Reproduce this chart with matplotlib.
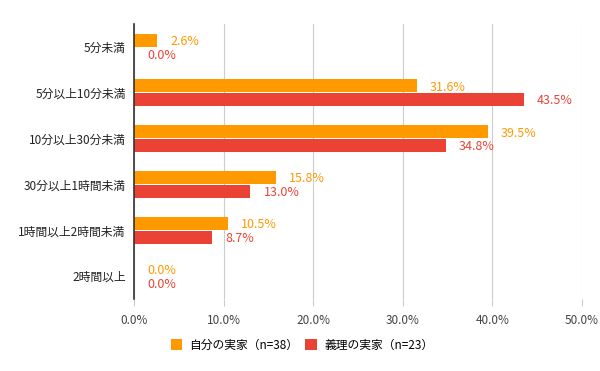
import numpy as np
import matplotlib
matplotlib.use("Agg")
import matplotlib.pyplot as plt

plt.rcParams['font.family'] = ['Noto Sans CJK JP', 'DejaVu Sans']

categories = ['5分未満', '5分以上10分未満', '10分以上30分未満',
              '30分以上1時間未満', '1時間以上2時間未満', '2時間以上']
own_family = [2.6, 31.6, 39.5, 15.8, 10.5, 0.0]
in_laws = [0.0, 43.5, 34.8, 13.0, 8.7, 0.0]
series_names = ['自分の実家（n=38）', '義理の実家（n=23）']
colors = ['#FF9900', '#EA4335']
x_ticks = [0, 10, 20, 30, 40, 50]

fig = plt.figure(figsize=(6, 3.71), dpi=100)
ax = fig.add_axes([134 / 600, 1 - 299 / 371, 448 / 600, 275 / 371])

y = np.arange(len(categories))
h = 0.3
for vals, off, col, name in [(own_family, -h / 2, colors[0], series_names[0]),
                             (in_laws, h / 2, colors[1], series_names[1])]:
    ax.barh(y + off, vals, height=h * 0.95, color=col, label=name, zorder=3)
    for yi, v in zip(y, vals):
        ax.text(v + 1.45, yi + off + 0.03, f'{v:.1f}%', color=col, fontsize=9,
                va='center', ha='left', zorder=4)

ax.set_ylim(len(categories) - 0.5, -0.5)
ax.set_xlim(0, 50)
ax.set_yticks(y)
ax.set_yticklabels(categories, fontsize=8.5, color='#222222')
ax.set_xticks(x_ticks)
ax.set_xticklabels([f'{t:.1f}%' for t in x_ticks], fontsize=8.5, color='#444444')
ax.tick_params(axis='y', length=0, pad=6)
ax.tick_params(axis='x', length=5, color='#cccccc', pad=6)
ax.grid(axis='x', color='#cccccc', linewidth=0.8, zorder=0)
for s in ['top', 'right', 'bottom']:
    ax.spines[s].set_visible(False)
ax.spines['left'].set_color('#333333')
ax.spines['left'].set_linewidth(1.2)
ax.spines['left'].set_zorder(5)

ax.legend(loc='upper center', bbox_to_anchor=(0.375, -0.105), ncol=2, frameon=False,
          fontsize=8.5, handlelength=1.0, handleheight=1.0, columnspacing=0.6,
          handletextpad=0.6)

fig.savefig('out.png', dpi=100)
